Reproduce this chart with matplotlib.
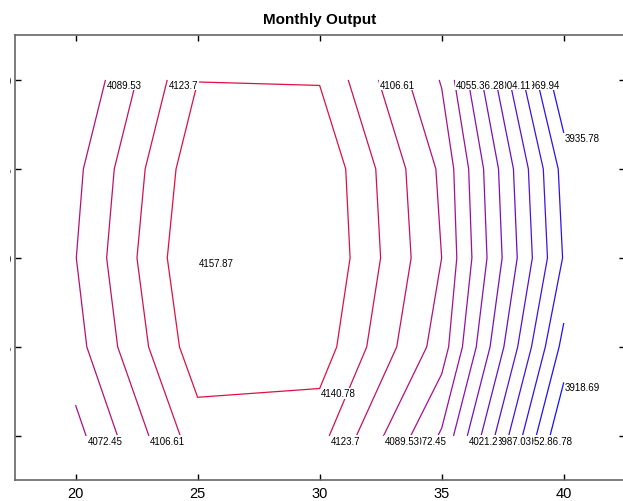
import numpy as np
import matplotlib
matplotlib.use("Agg")
import matplotlib.pyplot as plt
from matplotlib.colors import LinearSegmentedColormap
from matplotlib.transforms import Bbox, TransformedBbox

plt.rcParams['font.family'] = ['Liberation Sans', 'DejaVu Sans']

# grid of the surface
x = [20, 25, 30, 35, 40]
y = [10, 15, 20, 25, 30]
z_y10 = [4066.7, 4133.1, 4129.7, 4052.9, 3901.609]
z_y15 = [4083.3, 4150.8, 4150.5, 4081.0, 3930.0]
z_y20 = [4089.1, 4157.866, 4157.8, 4089.5, 3951.5]
z_y25 = [4085.2, 4152.7, 4155.6, 4086.2, 3946.5]
z_y30 = [4073.0, 4140.5, 4139.8, 4071.0, 3920.0]

# which end of a line carries the label (right lines, then left lines)
right_side = ['top', 'bottom', 'bottom', 'top', 'bottom', 'top', 'bottom',
              'top', 'top', 'bottom', 'bottom', 'top', 'bottom']
left_side = {9: 'bottom', 10: 'top', 11: 'bottom', 12: 'top'}

Z = np.array([z_y10, z_y15, z_y20, z_y25, z_y30])
X, Y = np.meshgrid(x, y)
levels = np.linspace(Z.min(), Z.max(), 16)[1:]

cmap = LinearSegmentedColormap.from_list('br', ['#1010ff', '#8a10b0', '#ee1030'])
colors = [cmap(i / (len(levels) - 1)) for i in range(len(levels))]

fig = plt.figure(figsize=(6.23, 5.02), dpi=100)
ax = fig.add_axes([0.0233, 0.041, 0.9796, 0.8865])

cs = ax.contour(X, Y, Z, levels=levels[:-1], colors=colors[:-1], linewidths=0.9)


def fmt(v):
    return ('%.2f' % v).rstrip('0').rstrip('.')


def put_label(px, py, v):
    ax.annotate(fmt(v), (px, py), xytext=(1, 0), textcoords='offset points',
                ha='left', va='top', fontsize=7, zorder=5,
                bbox=dict(boxstyle='square,pad=0.05', fc='white', ec='none'))


for i, segs in enumerate(cs.allsegs):
    for seg in segs:
        if len(seg) < 2:
            continue
        closed = np.allclose(seg[0], seg[-1])
        if closed:
            right = seg[seg[:, 0] >= np.mean(x[1:3])]
            p = right[np.argmin(right[:, 1])]
        else:
            ends = [seg[0], seg[-1]]
            if seg[:, 0].mean() < np.mean(x[1:3]):
                side = left_side.get(i, 'top')
            else:
                side = right_side[i]
            p = max(ends, key=lambda e: e[1]) if side == 'top' else min(ends, key=lambda e: e[1])
        put_label(p[0], p[1], levels[i])

# top level collapses to the single highest grid point
iy, ix = np.unravel_index(np.argmax(Z), Z.shape)
put_label(x[ix], y[iy], levels[-1])

ax.set_xlim(17.5, 42.5)
ax.set_ylim(7.5, 32.5)
ax.set_xticks(x)
ax.set_yticks(y)
ax.tick_params(direction='in', length=4, width=1, top=True, right=True,
               labelsize=10.5, pad=4)
ax.tick_params(axis='y', pad=2)
for s in ax.spines.values():
    s.set_color('#666666')
    s.set_linewidth(1.2)
ax.set_title('Monthly Output', fontsize=11, fontweight='bold', pad=9)

# the source chart is cropped just left of the axis, leaving slivers of the y labels
clip = TransformedBbox(Bbox([[9.5 / 623, 0], [1, 1]]), fig.transFigure)
for lbl in ax.get_yticklabels():
    lbl.set_clip_on(True)
    lbl.set_clip_box(clip)

fig.savefig('out.png', dpi=100)
